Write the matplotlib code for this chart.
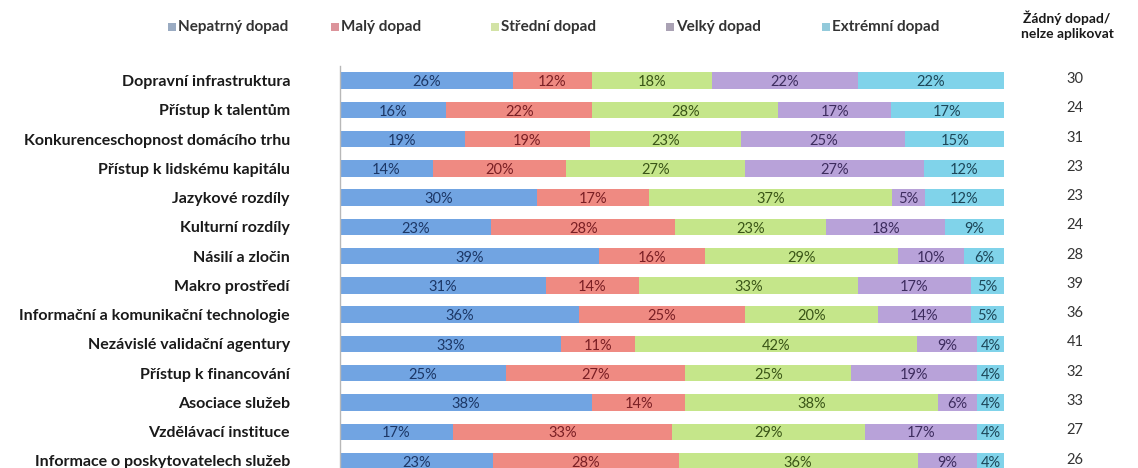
import matplotlib

matplotlib.use("Agg")
import matplotlib.pyplot as plt
from matplotlib.patches import Rectangle
import numpy as np

plt.rcParams["font.family"] = ["Lato", "DejaVu Sans"]

categories = [
    "Dopravní infrastruktura",
    "Přístup k talentům",
    "Konkurenceschopnost domácího trhu",
    "Přístup k lidskému kapitálu",
    "Jazykové rozdíly",
    "Kulturní rozdíly",
    "Násilí a zločin",
    "Makro prostředí",
    "Informační a komunikační technologie",
    "Nezávislé validační agentury",
    "Přístup k financování",
    "Asociace služeb",
    "Vzdělávací instituce",
    "Informace o poskytovatelech služeb",
]
series_names = ["Nepatrný dopad", "Malý dopad", "Střední dopad", "Velký dopad", "Extrémní dopad"]
nepatrny = [26, 16, 19, 14, 30, 23, 39, 31, 36, 33, 25, 38, 17, 23]
maly = [12, 22, 19, 20, 17, 28, 16, 14, 25, 11, 27, 14, 33, 28]
stredni = [18, 28, 23, 27, 37, 23, 29, 33, 20, 42, 25, 38, 29, 36]
velky = [22, 17, 25, 27, 5, 18, 10, 17, 14, 9, 19, 6, 17, 9]
extremni = [22, 17, 15, 12, 12, 9, 6, 5, 5, 4, 4, 4, 4, 4]
zadny = [30, 24, 31, 23, 23, 24, 28, 39, 36, 41, 32, 33, 27, 26]

BAR_COLORS = ["#71a4e2", "#ef8a82", "#c5e68a", "#b8a2d9", "#80d3ea"]
TEXT_COLORS = ["#1c3766", "#7a1f24", "#3a5517", "#3d2c5e", "#1c4658"]
LEGEND_COLORS = ["#9aabc2", "#dc949b", "#d3e3a6", "#aaa2b4", "#93cadb"]
LEGEND_X = [168, 331, 491, 666, 822]  # px positions of the legend squares

W, H = 1138, 468
data = np.array([nepatrny, maly, stredni, velky, extremni], dtype=float)
totals = data.sum(axis=0)
widths = data / totals * 100  # bars in the source are stretched to a full row

fig = plt.figure(figsize=(W / 100, H / 100), dpi=100, facecolor="white")
ax = fig.add_axes([340 / W, 0, 664 / W, 1 - 66 / H])

y = np.arange(len(categories))
left = np.zeros(len(categories))
for k in range(len(series_names)):
    ax.barh(y, widths[k], left=left, height=0.56, color=BAR_COLORS[k], edgecolor="none", zorder=2)
    for i in range(len(categories)):
        ax.text(left[i] + widths[k][i] / 2, y[i] + 0.06, "{:d}%".format(int(data[k][i])),
                ha="center", va="center", fontsize=10.5, color=TEXT_COLORS[k], zorder=3)
    left += widths[k]

for i, v in enumerate(zadny):
    ax.text(110.7, y[i] - 0.05, str(v), ha="center", va="center", fontsize=10.5,
            color="#333333", clip_on=False)

ax.set_xlim(0, 100)
ax.set_ylim(13.24, -0.5)
ax.set_yticks(y)
ax.set_yticklabels(categories, fontsize=11.5, fontweight="bold", color="#1a1a1a")
ax.tick_params(axis="y", length=0, pad=36)
ax.set_xticks([])
for s in ("top", "right", "bottom"):
    ax.spines[s].set_visible(False)
ax.spines["left"].set_color("#b8b8b8")
ax.spines["left"].set_linewidth(1.0)

# legend: small squares followed by the series names
for name, col, px in zip(series_names, LEGEND_COLORS, LEGEND_X):
    fig.patches.append(Rectangle((px / W, 1 - 31 / H), 8 / W, 8 / H, transform=fig.transFigure,
                                 facecolor=col, edgecolor="none"))
    fig.text((px + 10) / W, 1 - 27 / H, name, ha="left", va="center", fontsize=11,
             fontweight="bold", color="#333333")

fig.text(1067 / W, 1 - 25 / H, "Žádný dopad/\nnelze aplikovat", ha="center", va="center",
         fontsize=10, fontweight="bold", color="#1a1a1a", linespacing=1.3)

fig.savefig("out.png", dpi=100, facecolor="white")
